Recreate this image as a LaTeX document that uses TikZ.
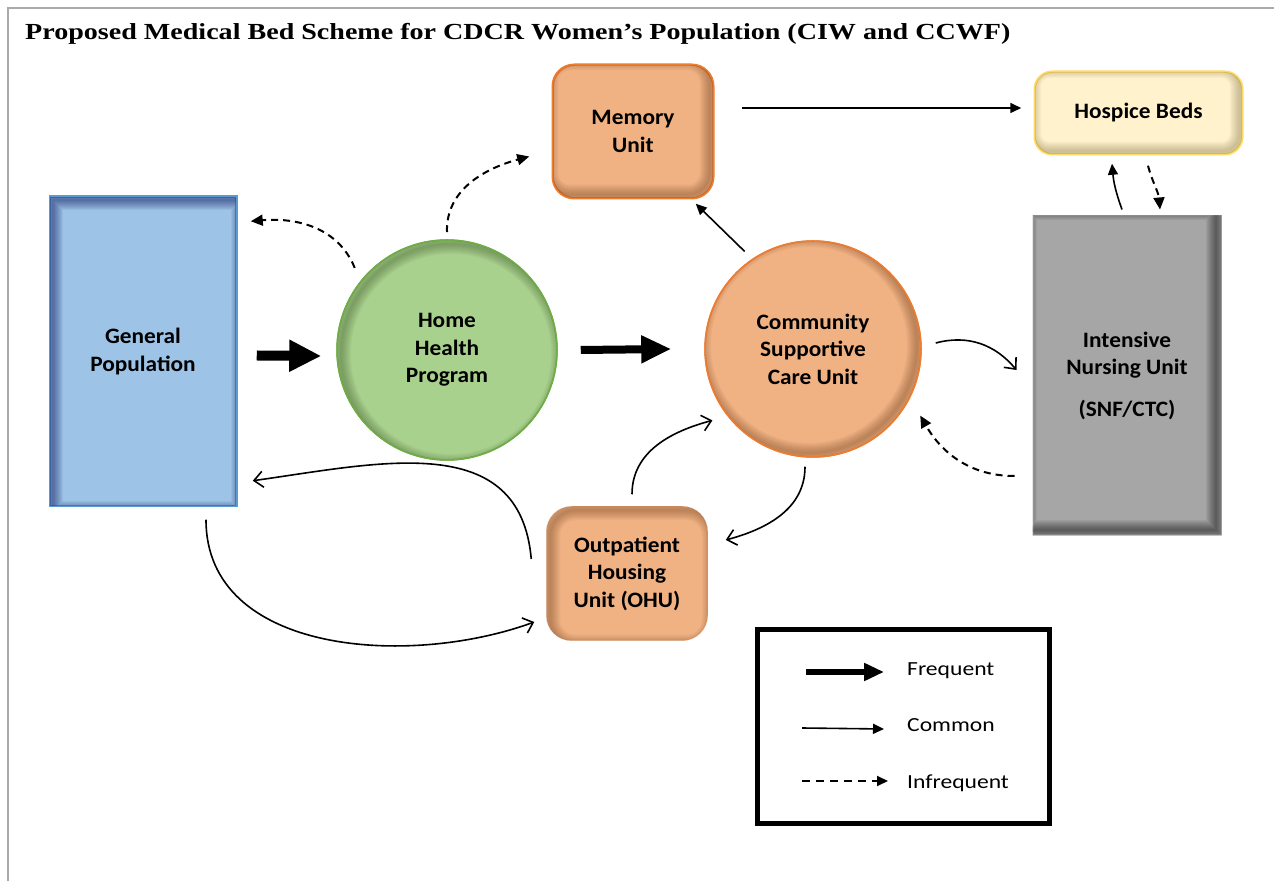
\documentclass[tikz,border=0pt]{standalone}
\usepackage{fontspec}
\setmainfont{Liberation Serif}
\newfontfamily\titlefont{Liberation Serif}[FakeStretch=1.22]
\newfontfamily\calfont{Carlito}[FakeStretch=1.06]
\newfontfamily\legfont{Carlito}[FakeStretch=1.18]
\usetikzlibrary{arrows.meta}
\definecolor{gpfill}{HTML}{9DC3E6}
\definecolor{gpline}{HTML}{5B9BD5}
\definecolor{hhpfill}{HTML}{A9D18E}
\definecolor{hhpline}{HTML}{70AD47}
\definecolor{orfill}{HTML}{F0B183}
\definecolor{orline}{HTML}{ED7D31}
\definecolor{hosfill}{HTML}{FFF2CC}
\definecolor{hosline}{HTML}{FFD966}
\definecolor{inufill}{HTML}{A6A6A6}
\definecolor{pagegray}{HTML}{AAAAAA}
% #1 node, #2 dx, #3 dy, #4 corner radius, #5 colour, #6 opacity per layer
\newcommand\rectshadow[6]{%
  \begin{scope}
    \clip[rounded corners=#4] (#1.south west) rectangle (#1.north east);
    \foreach \w in {2,4,...,20}{
      \draw[rounded corners=#4, line width=\w pt, draw=#5, draw opacity=#6]
        ([shift={(#2,#3)}]#1.south west) rectangle ([shift={(#2,#3)}]#1.north east);
    }
  \end{scope}}
% #1 node, #2 radius, #3 dx, #4 dy, #5 colour, #6 opacity per layer
\newcommand\circshadow[6]{%
  \begin{scope}
    \clip (#1.center) circle (#2);
    \foreach \w in {2,4,...,20}{
      \draw[line width=\w pt, draw=#5, draw opacity=#6]
        ([shift={(#3,#4)}]#1.center) circle (#2);
    }
  \end{scope}}
\tikzset{
  box/.style={font=\calfont\bfseries\fontsize{22}{27.5}\selectfont, align=center, inner sep=0pt, line width=1.5pt},
  bigarrow/.style={line width=10pt, -{Triangle[length=32pt,width=30pt]}},
  barbarrow/.style={line width=1.6pt, -{Straight Barb[length=9pt,width=16pt]}},
  triarrow/.style={line width=1.6pt, -{Triangle[length=11pt,width=10pt]}},
  dasharrow/.style={line width=2pt, dash pattern=on 7pt off 5pt, -{Triangle[length=12pt,width=11pt]}},
  pageline/.style={draw=pagegray, line width=2pt},
  legtext/.style={font=\legfont\fontsize{20}{24}\selectfont, anchor=west, inner sep=0pt}
}
\begin{document}
\begin{tikzpicture}[x=1pt,y=1pt]
\useasboundingbox (0,0) rectangle (1274,881);
\fill[white] (0,0) rectangle (1274,881);
\draw[pageline] (7,873) -- (1274,873);
\draw[pageline] (8,874) -- (8,0);

\node[anchor=base west, font=\titlefont\bfseries\fontsize{23}{27}\selectfont, inner sep=0pt] (title) at (25,841)
  {Proposed Medical Bed Scheme for CDCR Women’s Population (CIW and CCWF)};

% shapes
\node[box, rectangle, fill=gpfill, draw=gpline, minimum width=186pt, minimum height=309pt] (gp) at (143,529.5) {General\\Population};
\node[box, circle, fill=hhpfill, draw=hhpline, minimum size=220pt] (hhp) at (447,531) {Home\\Health\\Program};
\node[box, rectangle, rounded corners=22pt, fill=orfill, draw=orline, minimum width=160pt, minimum height=133pt] (mem) at (633,749.5) {Memory\\Unit};
\node[box, circle, fill=orfill, draw=orline, minimum size=216pt] (cscu) at (813,532) {Community\\Supportive\\Care Unit};
\node[box, rectangle, rounded corners=18pt, fill=hosfill, draw=hosline, minimum width=207pt, minimum height=82pt] (hos) at (1138.5,768) {Hospice Beds};
\node[box, rectangle, fill=inufill, draw=inufill!80!white, line width=1pt, minimum width=188pt, minimum height=319pt] (inu) at (1127,505.5) {Intensive\\Nursing Unit\\[14pt](SNF/CTC)};
\node[box, rectangle, rounded corners=25pt, fill=orfill, draw=orfill!90!orline, minimum width=160pt, minimum height=133pt] (ohu) at (627,307.5) {Outpatient\\Housing\\Unit (OHU)};

% inner shadows
\rectshadow{gp}{4}{-4}{0pt}{black!70!blue}{0.05}
\rectshadow{inu}{-6}{5}{0pt}{black}{0.05}
\rectshadow{mem}{-4}{4}{22pt}{black!60!orline}{0.04}
\rectshadow{hos}{-3}{3}{18pt}{black!60!hosline}{0.035}
\circshadow{hhp}{110}{4}{-4}{black!60!hhpline}{0.04}
\circshadow{cscu}{108}{-4}{4}{black!60!orline}{0.04}
\rectshadow{ohu}{4}{-4}{25pt}{black!60!orline}{0.04}

% borders again
\draw[gpline, line width=1.5pt] (gp.south west) rectangle (gp.north east);
\draw[hhpline, line width=1.5pt] (hhp.center) circle (110);
\draw[orline, line width=1.5pt, rounded corners=22pt] (mem.south west) rectangle (mem.north east);
\draw[orline, line width=1.5pt] (cscu.center) circle (108);
\draw[hosline, line width=1.5pt, rounded corners=18pt] (hos.south west) rectangle (hos.north east);

% connectors
\draw[bigarrow] ([xshift=20pt,yshift=-4pt]gp.east) -- ([xshift=-15pt,yshift=-6pt]hhp.west);
\draw[bigarrow, line width=8pt, -{Triangle[length=30pt,width=26pt]}] ([xshift=23pt]hhp.east) -- ([xshift=-33pt]cscu.west);
\draw[dasharrow] ([shift={(-10,8)}]hhp.138) to[out=112,in=5] ([shift={(14,-25)}]gp.north east);
\draw[dasharrow] ([yshift=7pt]hhp.north) to[out=92,in=195] ([shift={(-23,-25)}]mem.west);
\draw[triarrow] ([shift={(28,23.5)}]mem.east) -- ([shift={(-13,5)}]hos.west);
\draw[triarrow] ([shift={(-6,8.5)}]cscu.125) -- ([shift={(-18,-5)}]mem.south east);
\draw[barbarrow] ([shift={(14,6)}]cscu.east) to[out=15,in=130] ([shift={(-16,5.5)}]inu.west);
\draw[dasharrow] ([shift={(-18,-100.5)}]inu.west) to[out=180,in=-60] ([shift={(15,-9)}]cscu.-32);
\draw[triarrow] ([shift={(-5,6)}]inu.north) to[out=110,in=-85] ([shift={(-26.5,-9)}]hos.south);
\draw[dasharrow] ([shift={(9.5,-11)}]hos.south) to[out=-75,in=95] ([shift={(33,6)}]inu.north);
\draw[barbarrow] ([shift={(5,12)}]ohu.north) to[out=90,in=195] ([shift={(-11.5,-9)}]cscu.215);
\draw[barbarrow] ([shift={(-8,-9)}]cscu.south) to[out=-90,in=15] ([shift={(18,33.5)}]ohu.east);
\draw[barbarrow] ([shift={(-15,14.5)}]ohu.west) to[out=95,in=8,looseness=1.15] ([shift={(16,26)}]gp.south east);
\draw[barbarrow] ([shift={(63,-13)}]gp.south) to[out=-90,in=200] ([shift={(-12,-48.5)}]ohu.west);

% legend
\node[draw, line width=5pt, minimum width=292pt, minimum height=194pt, inner sep=0pt] (legend) at (903.5,154.5) {};
\coordinate (lf1) at (806,209); \coordinate (lf2) at (884,209);
\coordinate (lc1) at (802,153); \coordinate (lc2) at (884,152);
\coordinate (li1) at (802,100); \coordinate (li2) at (888,100);
\draw[line width=6pt, -{Triangle[length=20pt,width=17pt]}] (lf1) -- (lf2);
\draw[triarrow] (lc1) -- (lc2);
\draw[line width=2pt, dash pattern=on 8pt off 6pt, -{Triangle[length=11pt,width=10pt]}] (li1) -- (li2);
\node[legtext] (lfreq) at (907,210) {Frequent};
\node[legtext] (lcomm) at (907,156) {Common};
\node[legtext] (linfr) at (907,98) {Infrequent};
\end{tikzpicture}
\end{document}
